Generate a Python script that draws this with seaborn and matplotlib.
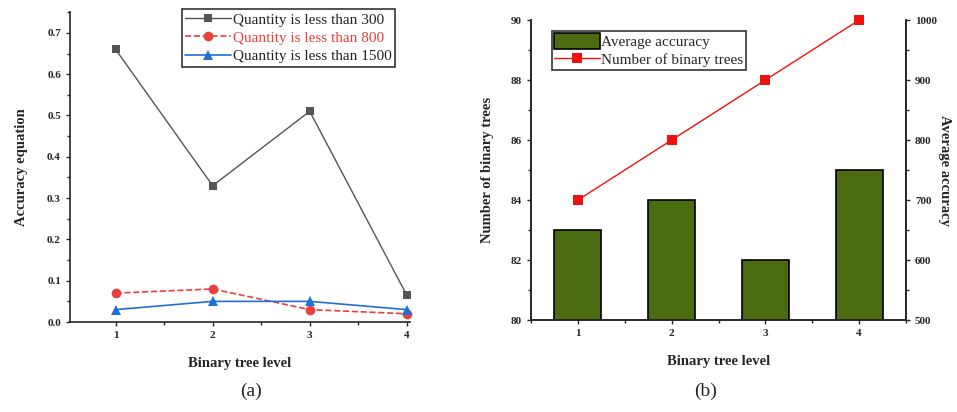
import numpy as np
import pandas as pd
import matplotlib
matplotlib.use("Agg")
import matplotlib.pyplot as plt
from matplotlib.ticker import MultipleLocator
import seaborn as sns

# data
levels = [1, 2, 3, 4]
acc_300 = [0.66, 0.33, 0.51, 0.065]
acc_800 = [0.07, 0.08, 0.03, 0.02]
acc_1500 = [0.03, 0.05, 0.05, 0.03]

avg_accuracy = [83, 84, 82, 85]        # bars, left axis
n_trees = [700, 800, 900, 1000]        # line, right axis

sns.set_style("ticks")
plt.rcParams['font.family'] = ['Liberation Serif', 'DejaVu Serif']
plt.rcParams['xtick.direction'] = 'out'
plt.rcParams['ytick.direction'] = 'out'

fig = plt.figure(figsize=(9.57, 4.12), dpi=100)
ax1 = fig.add_axes([0.0731, 0.2184, 0.355, 0.752])
ax2 = fig.add_axes([0.5549, 0.2233, 0.3918, 0.728])

# (a) line chart
df = pd.DataFrame({"level": levels, "300": acc_300, "800": acc_800, "1500": acc_1500})
sns.lineplot(data=df, x="level", y="300", ax=ax1, color="#555555", marker="s",
             markersize=6, lw=1, markeredgewidth=0, label="Quantity is less than 300", clip_on=False)
sns.lineplot(data=df, x="level", y="800", ax=ax1, color="#e8403f", marker="o",
             markersize=7, lw=1.2, markeredgewidth=0, dashes=(6, 4), linestyle="--",
             label="Quantity is less than 800", clip_on=False)
sns.lineplot(data=df, x="level", y="1500", ax=ax1, color="#2070d8", marker="^",
             markersize=7, lw=1.2, markeredgewidth=0, label="Quantity is less than 1500", clip_on=False)
ax1.set_xlim(0.53, 4.03)
ax1.set_ylim(0, 0.75)
ax1.set_xticks(levels)
ax1.xaxis.set_minor_locator(MultipleLocator(0.5))
ax1.set_yticks(np.arange(0, 0.71, 0.1))
ax1.set_yticklabels([f"{v:.1f}" for v in np.arange(0, 0.71, 0.1)])
ax1.yaxis.set_minor_locator(MultipleLocator(0.05))
ax1.tick_params(which="major", length=3, width=1, labelsize=8)
ax1.tick_params(which="minor", length=2, width=1)
ax1.set_xlabel("Binary tree level", fontsize=10.5, fontweight="bold", labelpad=12)
ax1.set_ylabel("Accuracy equation", fontsize=10.5, fontweight="bold", labelpad=14)
for s in ["top", "right"]:
    ax1.spines[s].set_visible(False)
for s in ["left", "bottom"]:
    ax1.spines[s].set_linewidth(1.2)
leg = ax1.legend(loc="upper right", bbox_to_anchor=(0.98, 1.035), fontsize=11, frameon=True,
                 fancybox=False, edgecolor="black", borderpad=0.25, labelspacing=0.3,
                 handlelength=3.0, handletextpad=0.1)
leg.get_frame().set_linewidth(1.2)
for txt, c in zip(leg.get_texts(), ["#222222", "#e8403f", "#222222"]):
    txt.set_color(c)

# (b) bar + line chart
dfb = pd.DataFrame({"level": levels, "acc": avg_accuracy, "trees": n_trees})
sns.barplot(data=dfb, x="level", y="acc", ax=ax2, native_scale=True, width=0.5,
            color="#4a6b10", saturation=1, edgecolor="black", linewidth=1.2,
            label="Average accuracy")
ax2.set_ylim(80, 90)
ax2.set_xlim(0.5, 4.5)
ax2.set_xticks(levels)
ax2.set_xticklabels([str(v) for v in levels])
ax2.xaxis.set_minor_locator(MultipleLocator(0.5))
ax2.set_yticks([80, 82, 84, 86, 88, 90])
ax2.yaxis.set_minor_locator(MultipleLocator(1))
ax2.tick_params(which="major", length=3, width=1, labelsize=8)
ax2.tick_params(which="minor", length=2, width=1)
ax2.set_xlabel("Binary tree level", fontsize=10.5, fontweight="bold", labelpad=12)
ax2.set_ylabel("Number of binary trees", fontsize=10.5, fontweight="bold", labelpad=12)

ax3 = ax2.twinx()
sns.lineplot(data=dfb, x="level", y="trees", ax=ax3, color="#ee1111", marker="s",
             markersize=7, lw=1, markeredgewidth=0, label="Number of binary trees", clip_on=False)
ax3.set_ylim(500, 1000)
ax3.set_yticks([500, 600, 700, 800, 900, 1000])
ax3.yaxis.set_minor_locator(MultipleLocator(50))
ax3.tick_params(which="major", length=3, width=1, labelsize=8)
ax3.tick_params(which="minor", length=2, width=1)
ax3.set_ylabel("Average accuracy", fontsize=10.5, fontweight="bold", rotation=270, labelpad=10)
ax3.set_xlim(0.5, 4.5)
for a in (ax2, ax3):
    a.spines["top"].set_visible(False)
    for s in ["left", "bottom", "right"]:
        a.spines[s].set_linewidth(1.2)

for a in (ax1, ax2, ax3):
    for lab in a.get_xticklabels() + a.get_yticklabels():
        lab.set_fontweight("bold")

h1, l1 = ax2.get_legend_handles_labels()
h2, l2 = ax3.get_legend_handles_labels()
if ax2.get_legend():
    ax2.get_legend().remove()
if ax3.get_legend():
    ax3.get_legend().remove()
leg2 = ax3.legend(h1 + h2, l1 + l2, loc="upper left", bbox_to_anchor=(0.035, 0.99), fontsize=11,
                  frameon=True, fancybox=False, edgecolor="black", borderpad=0.15,
                  labelspacing=0.15, handlelength=3.0, handleheight=1.2, handletextpad=0.1)
leg2.get_frame().set_linewidth(1.2)

fig.text(0.262, 0.04, "(a)", fontsize=14, ha="center")
fig.text(0.737, 0.04, "(b)", fontsize=14, ha="center")

fig.savefig("out.png", dpi=100)
